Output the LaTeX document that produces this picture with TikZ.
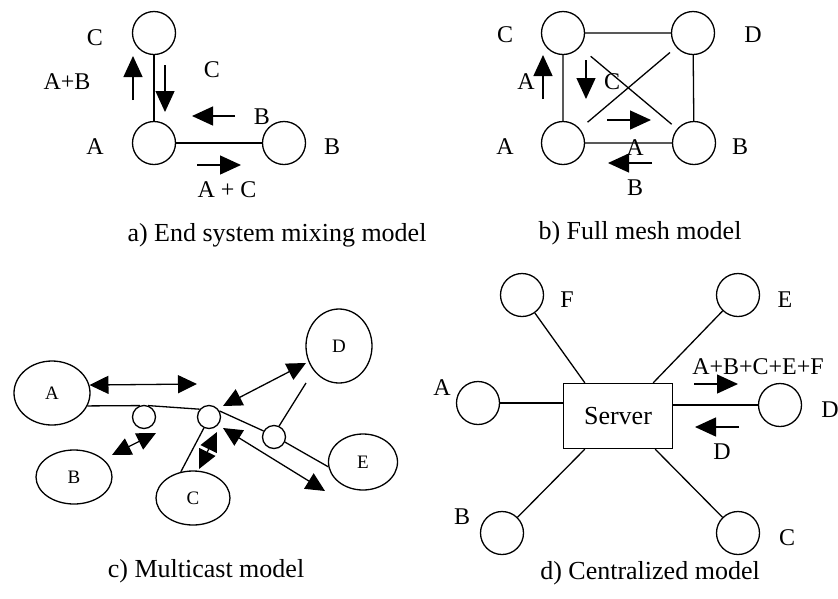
\documentclass[tikz,border=0pt]{standalone}
\usepackage{fontspec}
\setmainfont{Liberation Serif}
\usetikzlibrary{arrows.meta,shapes.geometric}

\begin{document}
\begin{tikzpicture}[x=1pt, y=-1pt, line width=1.3pt,
		peer/.style={circle, draw, minimum size=43pt, inner sep=0pt},
		hub/.style={circle, draw, minimum size=23pt, inner sep=0pt},
		host/.style={ellipse, draw, inner sep=0pt, font=\fontsize{19}{22}\selectfont},
		lbl/.style={font=\fontsize{24}{28}\selectfont, inner sep=0pt},
		title/.style={font=\fontsize{26}{30}\selectfont, inner sep=0pt},
		flow/.style={-{Triangle[length=21pt,width=19pt]}},
		twoway/.style={{Triangle[length=19pt,width=18pt]}-{Triangle[length=19pt,width=18pt]}}]
		\useasboundingbox (0,0) rectangle (838,598);

		% a) end system mixing
		\node[peer] (a-C) at (154,33) {};
		\node[peer] (a-A) at (154,143) {};
		\node[peer] (a-B) at (284,143) {};
		\draw (a-C) -- (a-A) -- (a-B);
		\node[lbl] (a-lC) at (95,38) {C};
		\node[lbl] (a-lA) at (95,147) {A};
		\node[lbl] (a-lB) at (332,147) {B};
		\coordinate (a-up1) at (133,100); \coordinate (a-up2) at (133,56);
		\coordinate (a-dn1) at (165,65); \coordinate (a-dn2) at (165,112);
		\coordinate (a-lf1) at (235,116); \coordinate (a-lf2) at (192,116);
		\coordinate (a-rt1) at (197,165); \coordinate (a-rt2) at (241,165);
		\draw[flow] (a-up1) -- (a-up2);
		\draw[flow] (a-dn1) -- (a-dn2);
		\draw[flow] (a-lf1) -- (a-lf2);
		\draw[flow] (a-rt1) -- (a-rt2);
		\node[lbl] (a-sAB) at (67,82) {A+B};
		\node[lbl] (a-sC) at (212,70) {C};
		\node[lbl] (a-sB) at (262,117) {B};
		\node[lbl] (a-sAC) at (227,190) {A + C};
		\node[title] (a-cap) at (277,235) {a) End system mixing model};

		% b) full mesh
		\node[peer] (b-C) at (563,33) {};
		\node[peer] (b-D) at (693,33) {};
		\node[peer] (b-A) at (563,143) {};
		\node[peer] (b-B) at (694,143) {};
		\draw (b-C) -- (b-D) -- (b-B) -- (b-A) -- (b-C);
		\draw[shorten <=14pt, shorten >=7pt] (b-C) -- (b-B);
		\draw[shorten <=10pt, shorten >=8pt] (b-A) -- (b-D);
		\node[lbl] (b-lC) at (505,35) {C};
		\node[lbl] (b-lD) at (753,35) {D};
		\node[lbl] (b-lA) at (505,147) {A};
		\node[lbl] (b-lB) at (740,147) {B};
		\coordinate (b-up1) at (543,99); \coordinate (b-up2) at (543,55);
		\coordinate (b-dn1) at (586,60); \coordinate (b-dn2) at (586,99);
		\coordinate (b-rt1) at (607,120); \coordinate (b-rt2) at (651,120);
		\coordinate (b-lf1) at (652,163); \coordinate (b-lf2) at (608,163);
		\draw[flow] (b-up1) -- (b-up2);
		\draw[flow] (b-dn1) -- (b-dn2);
		\draw[flow] (b-rt1) -- (b-rt2);
		\draw[flow] (b-lf1) -- (b-lf2);
		\node[lbl] (b-sA) at (526,82) {A};
		\node[lbl] (b-sC) at (612,82) {C};
		\node[lbl] (b-sA2) at (635,148) {A};
		\node[lbl] (b-sB) at (635,188) {B};
		\node[title] (b-cap) at (640,233) {b) Full mesh model};

		% c) multicast
		\node[host, minimum width=76pt, minimum height=64pt] (c-A) at (52,393) {A};
		\node[host, minimum width=76pt, minimum height=54pt] (c-B) at (74,477) {B};
		\node[host, minimum width=74pt, minimum height=54pt] (c-C) at (193,498) {C};
		\node[host, minimum width=66pt, minimum height=74pt] (c-D) at (339,346) {D};
		\node[host, minimum width=69pt, minimum height=56pt] (c-E) at (363,462) {E};
		\node[hub] (c-s1) at (144,417) {};
		\node[hub] (c-s2) at (209,417) {};
		\node[hub] (c-s3) at (274,437) {};
		\coordinate (c-dfoot) at (306,383);
		\draw (c-A.-20) -- (c-s1.110);
		\draw (c-s1.70) -- (c-s2.140);
		\draw (c-s2.30) -- (c-s3.150);
		\draw (c-s3.65) -- (c-dfoot);
		\draw (c-s3.-25) -- (c-E.188);
		\draw (c-s2.245) -- (c-C.115);
		\coordinate (c-a2) at (197,384);
		\coordinate (c-b1) at (112,455); \coordinate (c-b2) at (156,433);
		\coordinate (c-d1) at (223,406); \coordinate (c-d2) at (306,363);
		\coordinate (c-c1) at (217,432); \coordinate (c-c2) at (199,469);
		\coordinate (c-e1) at (223,428); \coordinate (c-e2) at (325,491);
		\draw[twoway] (c-A.12) -- (c-a2);
		\draw[twoway] (c-b1) -- (c-b2);
		\draw[twoway] (c-d1) -- (c-d2);
		\draw[twoway] (c-c1) -- (c-c2);
		\draw[twoway] (c-e1) -- (c-e2);
		\node[title] (c-cap) at (206,571) {c) Multicast model};

		% d) centralized
		\node[draw, minimum width=109pt, minimum height=65pt, font=\fontsize{26}{30}\selectfont] (srv) at (618,416) {Server};
		\node[peer] (d-A) at (478,403) {};
		\node[peer] (d-F) at (522,295) {};
		\node[peer] (d-E) at (738,295) {};
		\node[peer] (d-D) at (780,405) {};
		\node[peer] (d-B) at (502,533) {};
		\node[peer] (d-C) at (738,533) {};
		\draw (d-A) -- (d-A -| srv.west);
		\draw (d-D -| srv.east) -- (d-D);
		\draw (d-F) -- ([xshift=22pt]srv.north west);
		\draw (d-E) -- ([xshift=-20pt]srv.north east);
		\draw (d-B) -- ([xshift=22pt]srv.south west);
		\draw (d-C) -- ([xshift=-18pt]srv.south east);
		\node[lbl] (d-lA) at (442,388) {A};
		\node[lbl] (d-lF) at (567,300) {F};
		\node[lbl] (d-lE) at (785,300) {E};
		\node[lbl] (d-lD) at (830,410) {D};
		\node[lbl] (d-lB) at (462,517) {B};
		\node[lbl] (d-lC) at (787,538) {C};
		\coordinate (d-rt1) at (694,384); \coordinate (d-rt2) at (738,384);
		\coordinate (d-lf1) at (739,427); \coordinate (d-lf2) at (695,427);
		\draw[flow] (d-rt1) -- (d-rt2);
		\draw[flow] (d-lf1) -- (d-lf2);
		\node[lbl] (d-sum) at (758,367) {A+B+C+E+F};
		\node[lbl] (d-sD) at (722,452) {D};
		\node[title] (d-cap) at (650,573) {d) Centralized model};
	\end{tikzpicture}
\end{document}
